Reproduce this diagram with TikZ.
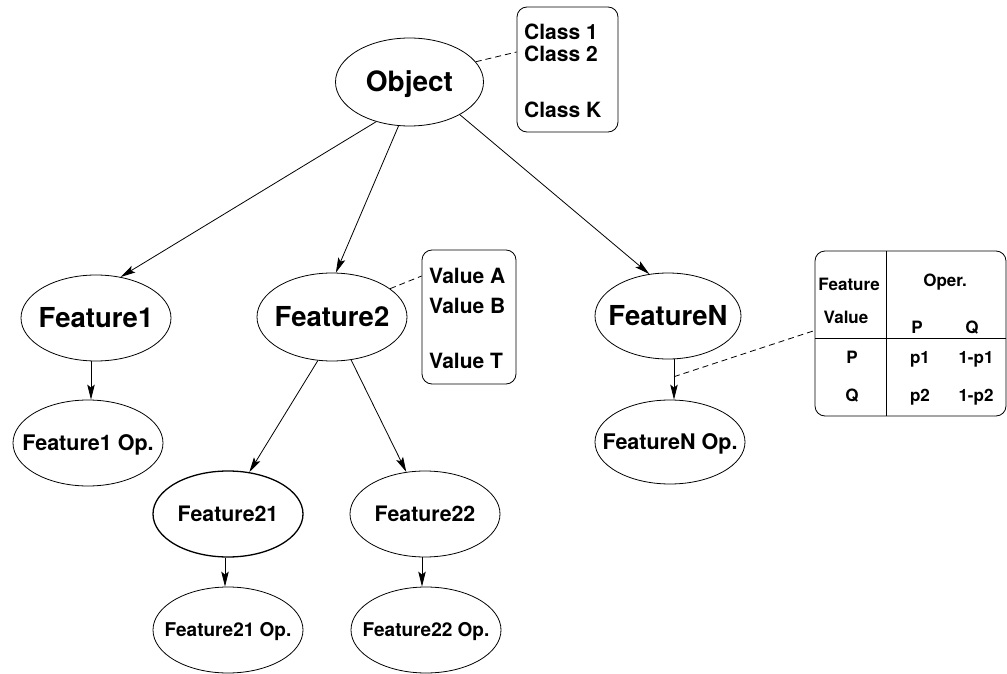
\documentclass[tikz,border=0pt]{standalone}
\usepackage{fontspec}
\setmainfont{TeX Gyre Heros}
\usetikzlibrary{shapes.geometric,arrows.meta}
% zero-width box: keeps the label from widening the ellipse
\newcommand\zwbox[1]{\makebox[0pt]{#1}}

\tikzset{
  oval/.style={ellipse, draw, line width=0.8pt, inner sep=0pt,
               minimum width=150pt, minimum height=86pt},
  panel/.style={draw, rounded corners=10pt, line width=0.8pt, inner sep=0pt},
  fobj/.style={font=\bfseries\fontsize{28}{30}\selectfont, text height=20pt, text depth=0pt},
  fbig/.style={font=\bfseries\fontsize{27.5}{30}\selectfont, text height=19.7pt, text depth=0pt},
  fop/.style={font=\bfseries\fontsize{21.5}{24}\selectfont, text height=15.4pt, text depth=0pt},
  fmid/.style={font=\bfseries\fontsize{21.3}{24}\selectfont, text height=15.3pt, text depth=0pt},
  fsm/.style={font=\bfseries\fontsize{19}{22}\selectfont, text height=13.6pt, text depth=0pt},
  flist/.style={font=\bfseries\fontsize{21}{24}\selectfont, text height=15pt, text depth=0pt,
                inner sep=0pt, anchor=west},
  ftab/.style={font=\bfseries\fontsize{17}{20}\selectfont, text height=12.2pt, text depth=0pt,
               inner sep=0pt},
  arr/.style={line width=0.8pt, -{Stealth[length=15pt,width=7.5pt,inset=3pt]}},
  link/.style={line width=0.8pt, dash pattern=on 6pt off 4pt}
}

\begin{document}
\begin{tikzpicture}[x=1pt,y=-1pt]
\useasboundingbox (0,0) rectangle (1007,674);

% tree nodes
\node[oval, fobj, minimum width=148pt, minimum height=88pt] (obj) at (409.5,82) {\zwbox{Object}};
\node[oval, fbig] (f1) at (96,318) {\zwbox{Feature1}};
\node[oval, fbig, minimum height=88pt] (f2) at (332,317) {\zwbox{Feature2}};
\node[oval, fbig, minimum width=146pt] (fn) at (668,316) {\zwbox{FeatureN}};
\node[oval, fop] (f1op) at (88,443) {\zwbox{Feature1 Op.}};
\node[oval, fop, minimum height=84pt] (fnop) at (670,442) {\zwbox{FeatureN Op.}};
\node[oval, fmid, line width=1.3pt] (f21) at (228,514) {\zwbox{Feature21}};
\node[oval, fmid] (f22) at (425,514) {\zwbox{Feature22}};
\node[oval, fsm] (f21op) at (228,630) {\zwbox{Feature21 Op.}};
\node[oval, fsm] (f22op) at (426,630) {\zwbox{Feature22 Op.}};

% class list
\node[panel, minimum width=101pt, minimum height=125pt] (cls) at (567.5,69.5) {};
\node[flist] (c1) at (524,32) {Class 1};
\node[flist] (c2) at (524,54) {Class 2};
\node[flist] (ck) at (524,110) {Class K};

% value list
\node[panel, minimum width=94pt, minimum height=134pt] (val) at (469,317) {};
\node[flist] (va) at (429,276) {Value A};
\node[flist] (vb) at (429,306) {Value B};
\node[flist] (vt) at (429,361) {Value T};

% operator table
\node[panel, minimum width=191pt, minimum height=165pt] (tab) at (910.5,333.5) {};
\draw[line width=0.8pt] (886,251) -- (886,416);
\draw[line width=0.8pt] (815,338) -- (1006,338);
\node[ftab] (hfeat) at (849,284) {Feature};
\node[ftab] (hval)  at (846,317) {Value};
\node[ftab] (hop)   at (945,280) {Oper.};
\node[ftab] (hp)    at (917,327) {P};
\node[ftab] (hq)    at (972,327) {Q};
\node[ftab] (rp)    at (852,357) {P};
\node[ftab] (rp1)   at (920,357) {p1};
\node[ftab] (rp2)   at (976,357) {1-p1};
\node[ftab] (rq)    at (852,395) {Q};
\node[ftab] (rq1)   at (920,395) {p2};
\node[ftab] (rq2)   at (976,395) {1-p2};

% tree edges
\draw[arr] (obj.230) -- (f1.59);
\draw[arr] (obj.256) -- (f2.85);
\draw[arr] (obj.327) -- (fn.114);
\draw[arr] (f2.252) -- (f21.63);
\draw[arr] (f2.294) -- (f22.114);

% operator edges
\coordinate (a1) at ([xshift=-5pt]f1.south);
\draw[arr] (a1) -- (a1 |- f1op.north);
\coordinate (a21) at ([xshift=-3pt]f21.south);
\draw[arr] (a21) -- (a21 |- f21op.north);
\coordinate (a22) at ([xshift=-3pt]f22.south);
\draw[arr] (a22) -- (a22 |- f22op.north);
\coordinate (an) at ([xshift=6pt]fn.south);
\draw[arr] (an) -- coordinate[pos=0.43] (anmid) (an |- fnop.north);

% annotations
\draw[link] (obj.17) -- ([yshift=17.5pt]cls.west);
\draw[link] (f2.26) -- ([yshift=41pt]val.west);
\draw[link] (anmid) -- ([yshift=3pt]tab.west);
\end{tikzpicture}
\end{document}
